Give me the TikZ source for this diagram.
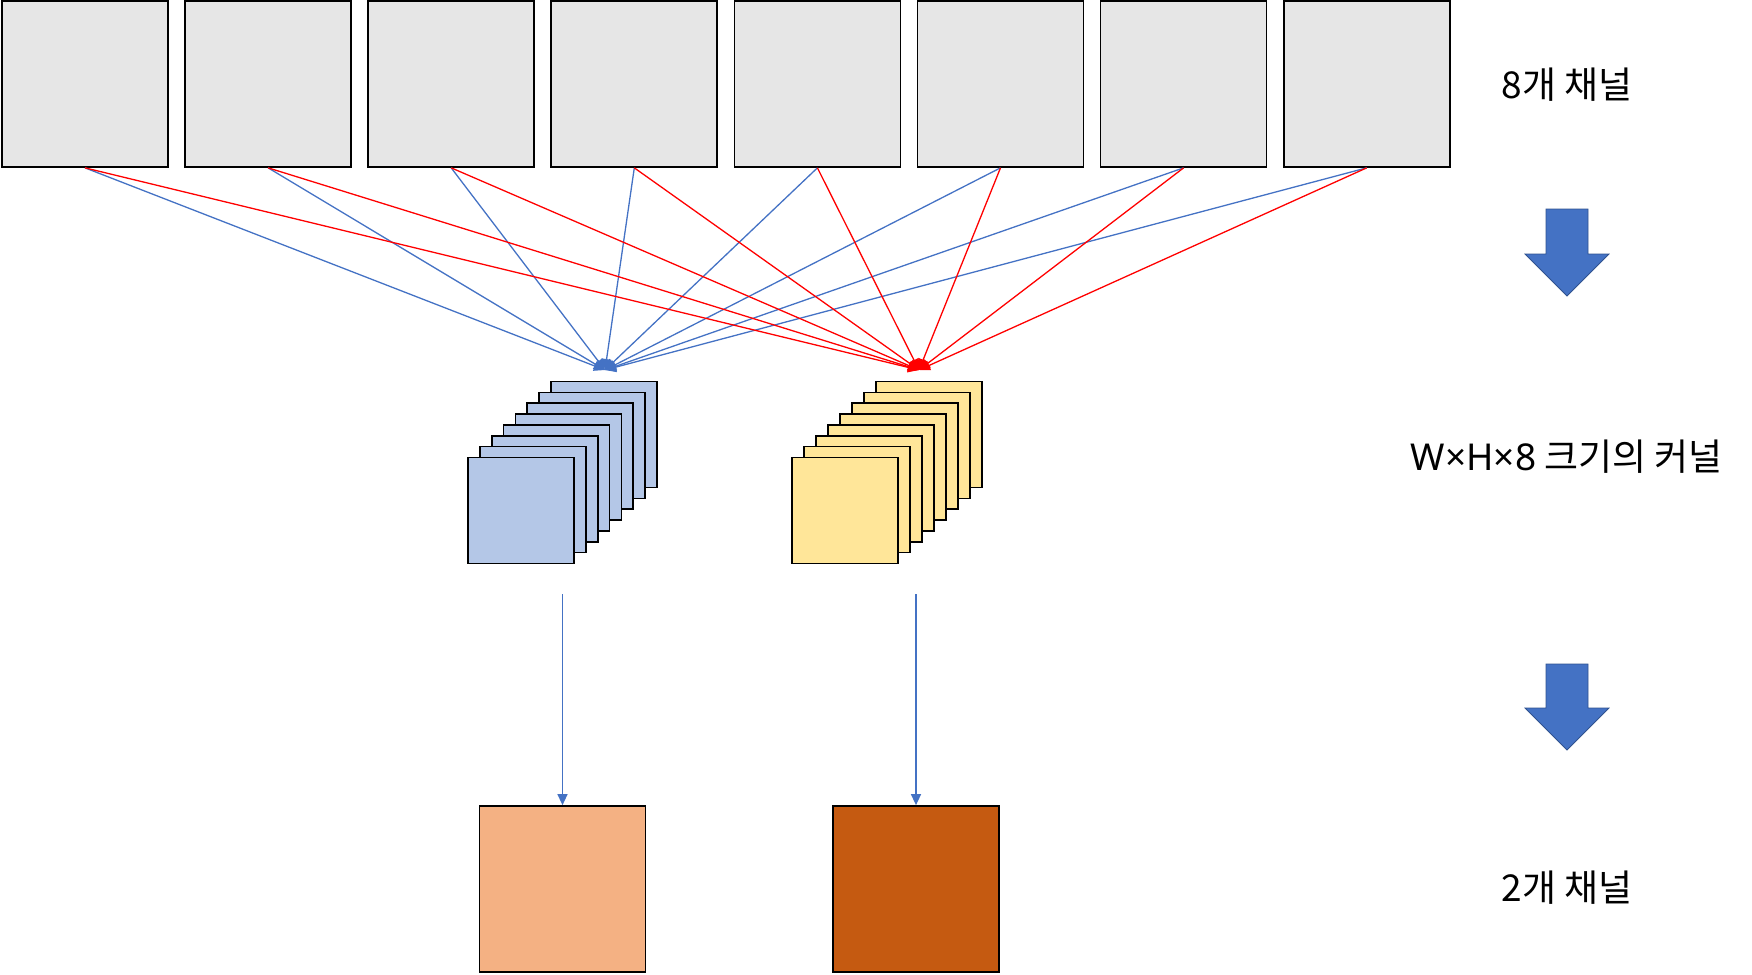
\documentclass[tikz,border=0pt]{standalone}
\usepackage{fontspec}
\setmainfont{Noto Sans CJK KR}
\newfontfamily\latinfont{Noto Sans}
\usetikzlibrary{arrows.meta}
\definecolor{chgray}{HTML}{E6E6E6}
\definecolor{kblue}{HTML}{B4C7E7}
\definecolor{kyellow}{HTML}{FFE699}
\definecolor{outlight}{HTML}{F4B183}
\definecolor{outdark}{HTML}{C55A11}
\definecolor{linkblue}{HTML}{4472C4}
\definecolor{arrowedge}{HTML}{2F528F}
\tikzset{
  chbox/.style={draw, line width=1.7pt, fill=chgray, minimum size=166pt, inner sep=0pt},
  kbox/.style={draw, line width=1.7pt, minimum size=106pt, inner sep=0pt},
  outbox/.style={draw, line width=1.7pt, minimum size=166pt, inner sep=0pt},
  bluelink/.style={linkblue, line width=1.3pt, -{Triangle[length=11pt,width=10pt]}},
  redlink/.style={red, line width=1.3pt, -{Triangle[length=11pt,width=10pt]}},
  bigarrow/.style={fill=linkblue, draw=arrowedge, line width=0.8pt, line join=miter},
  label/.style={font=\fontsize{37}{44}\selectfont}
}
\begin{document}
\begin{tikzpicture}[x=1pt, y=-1pt]
\useasboundingbox (0,0) rectangle (1752,974);

% input channels
\node[chbox] (ch1) at (85,84) {};
\node[chbox] (ch2) at (268.1,84) {};
\node[chbox] (ch3) at (451.2,84) {};
\node[chbox] (ch4) at (634.3,84) {};
\node[chbox] (ch5) at (817.4,84) {};
\node[chbox] (ch6) at (1000.5,84) {};
\node[chbox] (ch7) at (1183.6,84) {};
\node[chbox] (ch8) at (1366.7,84) {};

\coordinate (bluetip) at (605,370);
\coordinate (redtip) at (919,370);

% blue kernel
\node[kbox, fill=kblue] (kb8) at (604,434.5) {};
\node[kbox, fill=kblue] (kb7) at (592.1,445.4) {};
\node[kbox, fill=kblue] (kb6) at (580.3,456.2) {};
\node[kbox, fill=kblue] (kb5) at (568.4,467.1) {};
\node[kbox, fill=kblue] (kb4) at (556.6,477.9) {};
\node[kbox, fill=kblue] (kb3) at (544.7,488.8) {};
\node[kbox, fill=kblue] (kb2) at (532.9,499.6) {};
\node[kbox, fill=kblue] (kb1) at (521,510.5) {};

% yellow kernel
\node[kbox, fill=kyellow] (ky8) at (929,434.5) {};
\node[kbox, fill=kyellow] (ky7) at (917,445.4) {};
\node[kbox, fill=kyellow] (ky6) at (905,456.2) {};
\node[kbox, fill=kyellow] (ky5) at (893,467.1) {};
\node[kbox, fill=kyellow] (ky4) at (881,477.9) {};
\node[kbox, fill=kyellow] (ky3) at (869,488.8) {};
\node[kbox, fill=kyellow] (ky2) at (857,499.6) {};
\node[kbox, fill=kyellow] (ky1) at (845,510.5) {};

\draw[bluelink] (ch1.south) -- (bluetip);
\draw[bluelink] (ch2.south) -- (bluetip);
\draw[bluelink] (ch3.south) -- (bluetip);
\draw[bluelink] (ch4.south) -- (bluetip);
\draw[bluelink] (ch5.south) -- (bluetip);
\draw[bluelink] (ch6.south) -- (bluetip);
\draw[bluelink] (ch7.south) -- (bluetip);
\draw[bluelink] (ch8.south) -- (bluetip);
\draw[redlink] (ch1.south) -- (redtip);
\draw[redlink] (ch2.south) -- (redtip);
\draw[redlink] (ch3.south) -- (redtip);
\draw[redlink] (ch4.south) -- (redtip);
\draw[redlink] (ch5.south) -- (redtip);
\draw[redlink] (ch6.south) -- (redtip);
\draw[redlink] (ch7.south) -- (redtip);
\draw[redlink] (ch8.south) -- (redtip);

% output channels
\node[outbox, fill=outlight] (out1) at (562.5,889) {};
\node[outbox, fill=outdark] (out2) at (916,889) {};
\coordinate (out1-in) at (562.5,594);
\coordinate (out2-in) at (916,594);
\draw[bluelink] (out1-in) -- (out1.north);
\draw[bluelink] (out2-in) -- (out2.north);

% right column
\node[label] (lbl-in) at (1567,85) {8개 채널};
\node[label] (lbl-kernel) at (1567,457) {{\latinfont W×H×8} 크기의 커널};
\node[label] (lbl-out) at (1567,888) {2개 채널};
\draw[bigarrow] (1546,209) -- (1588,209) -- (1588,254) -- (1609,254) -- (1567,296) -- (1525,254) -- (1546,254) -- cycle;
\draw[bigarrow] (1546,664) -- (1588,664) -- (1588,708) -- (1609,708) -- (1567,750) -- (1525,708) -- (1546,708) -- cycle;
\end{tikzpicture}
\end{document}
